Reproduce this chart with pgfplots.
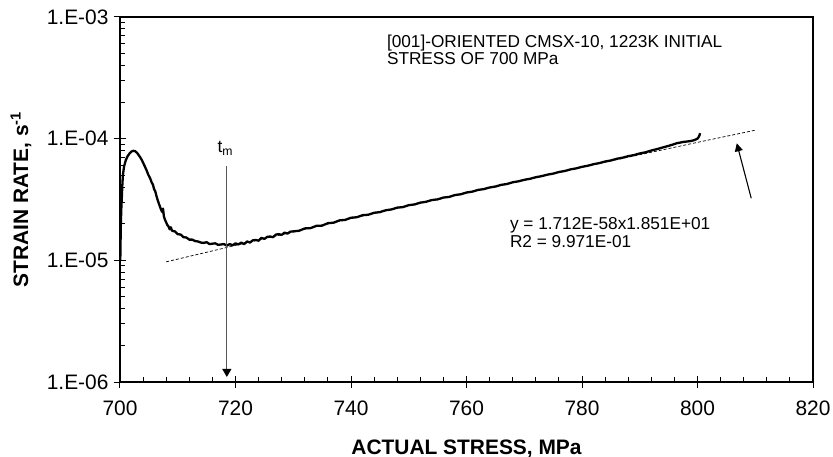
\documentclass[border=0pt]{standalone}
\usepackage{fontspec}
\setmainfont{Liberation Sans}
\usepackage{pgfplots}
\pgfplotsset{compat=1.18}
\usetikzlibrary{arrows.meta}
\pgfplotstableread{
x y
700.05 1.00e-5
700.10 1.45e-5
700.15 2.00e-5
700.22 2.60e-5
700.30 3.13e-5
700.40 4.10e-5
700.50 5.00e-5
700.70 5.90e-5
701.00 6.65e-5
701.30 7.15e-5
701.60 7.50e-5
702.00 7.85e-5
702.30 7.95e-5
702.60 7.90e-5
702.95 7.65e-5
703.40 7.15e-5
703.80 6.65e-5
704.20 6.05e-5
704.60 5.50e-5
704.90 5.05e-5
705.20 4.75e-5
705.50 4.35e-5
705.70 4.20e-5
705.90 3.85e-5
706.10 3.70e-5
706.35 3.33e-5
706.60 3.05e-5
706.90 2.78e-5
707.10 2.62e-5
707.30 2.50e-5
707.45 2.66e-5
707.60 2.30e-5
707.80 2.15e-5
708.00 2.05e-5
708.20 1.95e-5
708.40 1.90e-5
708.60 1.80e-5
708.80 1.87e-5
709.00 1.75e-5
709.50 1.73e-5
710.00 1.64e-5
710.50 1.63e-5
711.00 1.55e-5
711.50 1.54e-5
712.00 1.48e-5
712.50 1.48e-5
713.00 1.44e-5
713.50 1.43e-5
714.00 1.40e-5
714.50 1.39e-5
715.00 1.41e-5
715.50 1.36e-5
716.00 1.37e-5
716.50 1.38e-5
717.00 1.34e-5
717.50 1.35e-5
718.00 1.36e-5
718.50 1.32e-5
719.00 1.36e-5
719.50 1.33e-5
720.00 1.38e-5
720.50 1.35e-5
721.00 1.40e-5
721.50 1.36e-5
722.00 1.43e-5
722.50 1.40e-5
723.00 1.46e-5
723.50 1.47e-5
724.00 1.45e-5
724.50 1.53e-5
725.00 1.50e-5
725.50 1.56e-5
726.00 1.57e-5
726.50 1.55e-5
727.00 1.63e-5
727.50 1.64e-5
728.00 1.62e-5
728.50 1.69e-5
729.00 1.66e-5
729.50 1.72e-5
730.00 1.73e-5
731.00 1.75e-5
732.00 1.83e-5
733.00 1.84e-5
734.00 1.92e-5
735.00 1.93e-5
736.00 2.02e-5
737.00 2.04e-5
738.00 2.13e-5
739.00 2.15e-5
740.00 2.24e-5
741.00 2.26e-5
742.00 2.35e-5
743.00 2.37e-5
744.00 2.46e-5
745.00 2.49e-5
746.00 2.58e-5
747.00 2.62e-5
748.00 2.71e-5
749.00 2.74e-5
750.00 2.84e-5
751.00 2.88e-5
752.00 2.98e-5
753.00 3.03e-5
754.00 3.13e-5
755.00 3.17e-5
756.00 3.28e-5
757.00 3.32e-5
758.00 3.44e-5
759.00 3.49e-5
760.00 3.61e-5
761.00 3.67e-5
762.00 3.79e-5
763.00 3.85e-5
764.00 3.97e-5
765.00 4.04e-5
766.00 4.17e-5
767.00 4.24e-5
768.00 4.38e-5
769.00 4.46e-5
770.00 4.59e-5
771.00 4.68e-5
772.00 4.82e-5
773.00 4.92e-5
774.00 5.06e-5
775.00 5.16e-5
776.00 5.32e-5
777.00 5.42e-5
778.00 5.59e-5
779.00 5.70e-5
780.00 5.87e-5
781.00 5.99e-5
782.00 6.17e-5
783.00 6.30e-5
784.00 6.49e-5
785.00 6.62e-5
786.00 6.83e-5
787.00 6.97e-5
788.00 7.18e-5
789.00 7.33e-5
790.00 7.56e-5
791.00 7.73e-5
792.00 7.99e-5
793.00 8.21e-5
794.00 8.47e-5
795.00 8.73e-5
796.00 9.03e-5
796.50 9.20e-5
797.00 9.28e-5
797.50 9.40e-5
798.00 9.45e-5
798.50 9.52e-5
799.00 9.60e-5
799.40 9.72e-5
799.70 9.85e-5
800.00 1.00e-4
800.20 1.03e-4
800.35 1.07e-4
800.45 1.11e-4
}\datatable
\pgfplotstableread{
x y
708 9.72e-6
720 1.326e-5
740 2.203e-5
760 3.608e-5
780 5.838e-5
800 9.325e-5
810 1.1734e-4
}\fittable
\begin{document}
\begin{tikzpicture}[x=1bp,y=1bp]
\useasboundingbox (-120,-75) rectangle (713,382);
\begin{axis}[
  at={(0,0)}, anchor=south west,
  scale only axis, width=693bp, height=365bp,
  xmin=700, xmax=820, ymode=log, ymin=1e-6, ymax=1e-3,
  xtick={700,720,...,820}, minor x tick num=4,
  ytick={1e-6,1e-5,1e-4,1e-3},
  yticklabels={1.E-06,1.E-05,1.E-04,1.E-03},
  xtick pos=bottom, ytick pos=left,
  tick align=inside,
  major tick length=6bp, minor tick length=5bp,
  extra x ticks={700,720,740,760,780,800,820},
  extra x tick labels={},
  extra x tick style={tick align=outside},
  extra y ticks={1e-6,1e-5,1e-4,1e-3},
  extra y tick labels={},
  extra y tick style={tick align=outside},
  axis line style={line width=1.2bp, black},
  every tick/.style={black, line width=1bp},
  /pgf/number format/assume math mode=true,
  xticklabel style={font=\fontsize{21}{23}\selectfont, yshift=-15bp},
  yticklabel style={font=\fontsize{21}{23}\selectfont, xshift=-8bp},
  xlabel={\bfseries ACTUAL STRESS, MPa},
  xlabel style={at={(axis description cs:0.5,-0.157)}, anchor=north, inner sep=0pt, font=\fontsize{21}{23}\selectfont},
  ylabel={\bfseries STRAIN RATE, s\textsuperscript{-1}},
  ylabel style={at={(axis description cs:-0.143,0.5)}, anchor=center, inner sep=0pt, font=\fontsize{21}{23}\selectfont},
  clip=false,
]
\addplot[black, line width=0.7bp, dash pattern=on 3bp off 2bp] table {\fittable};
\addplot[black, line width=2.3bp, line join=round] table {\datatable};
\draw[black!65, line width=1bp, -{Triangle[color=black, length=8bp, width=9bp]}] (axis cs:718.5,5.97e-5) -- (axis cs:718.5,1.1e-6);
\draw[black, line width=1.1bp, -{Triangle[length=8bp, width=8bp]}] (axis cs:809.3,3.24e-5) -- (axis cs:806.8,9.16e-5);
\node[anchor=base, inner sep=0pt, font=\fontsize{17.5}{19}\selectfont] at (axis cs:718.25,7.63e-5) {t\textsubscript{m}};
\node[anchor=north west, inner sep=0pt, align=left, font=\fontsize{17.3}{17.5}\selectfont] at (axis cs:746.2,7.18e-4) {[001]-ORIENTED CMSX-10, 1223K INITIAL\\STRESS OF 700 MPa};
\node[anchor=north west, inner sep=0pt, align=left, font=\fontsize{17.3}{17.5}\selectfont] at (axis cs:767.5,2.24e-5) {y = 1.712E-58x1.851E+01\\R2 = 9.971E-01};
\end{axis}
\end{tikzpicture}
\end{document}
